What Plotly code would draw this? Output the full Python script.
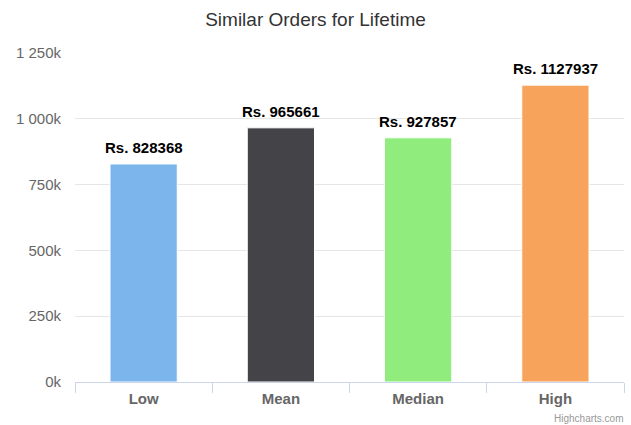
import plotly.graph_objects as go

categories = ["Low", "Mean", "Median", "High"]
values = [828368, 965661, 927857, 1127937]
colors = ["#7cb5ec", "#434348", "#90ed7d", "#f7a35c"]
label_prefix = "Rs. "
y_tickvals = [0, 250000, 500000, 750000, 1000000, 1250000]
y_ticktext = ["0k", "250k", "500k", "750k", "1 000k", "1 250k"]

FONT = "Liberation Sans, Helvetica, Arial, sans-serif"

fig = go.Figure()
fig.add_trace(go.Bar(
    x=categories,
    y=values,
    marker=dict(color=colors, line=dict(color="white", width=1)),
    hoverinfo="skip",
))

for c, v in zip(categories, values):
    fig.add_annotation(
        x=c, y=v, text="<b>%s%d</b>" % (label_prefix, v),
        showarrow=False, yanchor="bottom", yshift=6,
        font=dict(family=FONT, size=15, color="#000000"),
    )

fig.add_annotation(
    xref="paper", yref="paper", x=1.0, y=0, xanchor="right", yanchor="middle",
    yshift=-36, xshift=0, text="Highcharts.com", showarrow=False,
    borderpad=0,
    font=dict(family=FONT, size=10, color="#999999"),
)

fig.update_layout(
    width=631, height=425,
    margin=dict(l=75, r=7, t=52.5, b=43, autoexpand=False),
    paper_bgcolor="white", plot_bgcolor="white",
    bargap=0.51,
    showlegend=False,
    title=dict(text="Similar Orders for Lifetime", x=0.5, xanchor="center",
               y=1 - 19 / 425, yanchor="middle",
               font=dict(family=FONT, size=19, color="#333333")),
    xaxis=dict(
        type="category", tickson="boundaries", ticks="outside", ticklen=10,
        tickcolor="#ccd6eb", showline=True, linecolor="#ccd6eb", linewidth=1,
        showgrid=False, fixedrange=True, automargin=False,
        ticklabelstandoff=3,
        tickfont=dict(family=FONT, size=15, color="#666666", weight="bold"),
    ),
    yaxis=dict(
        range=[0, 1250000], tickvals=y_tickvals, ticktext=y_ticktext,
        showgrid=True, gridcolor="#e6e6e6", gridwidth=1, zeroline=False,
        showline=False, ticks="outside", ticklen=10, tickcolor="rgba(0,0,0,0)",
        tickfont=dict(family=FONT, size=15, color="#666666"),
        fixedrange=True, automargin=False,
    ),
)

fig.write_html("out.html", config={"displayModeBar": False},
               post_script="document.body.style.margin='0';")
